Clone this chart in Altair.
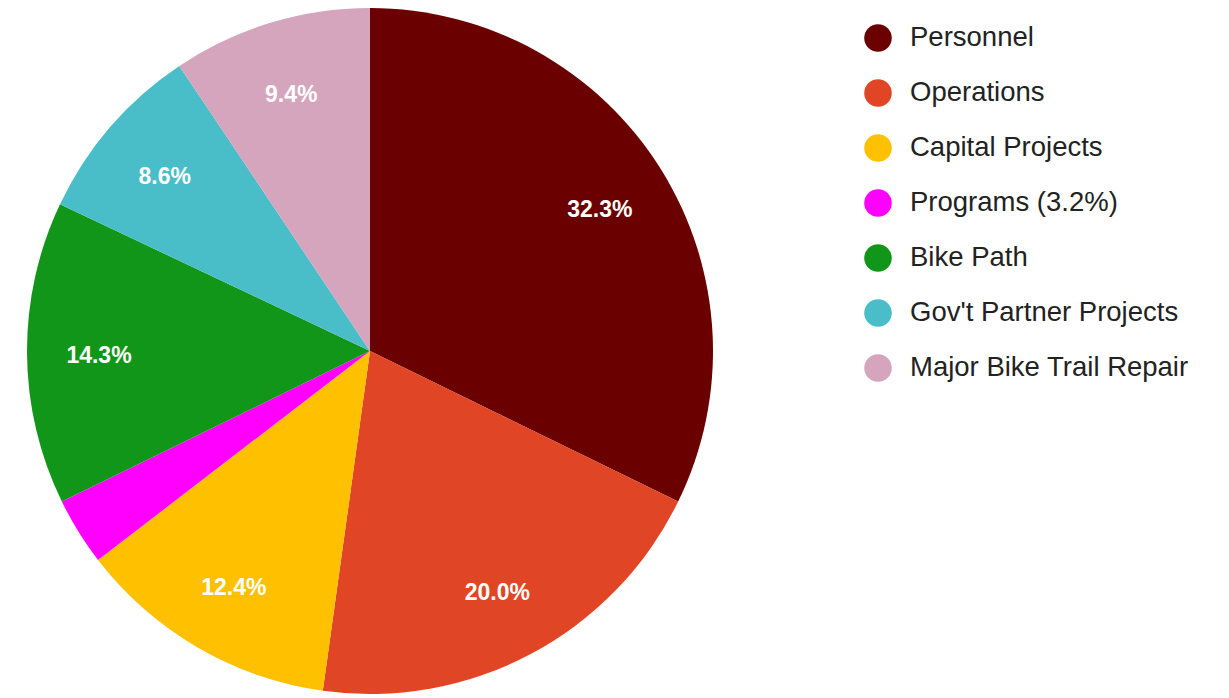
import altair as alt
import pandas as pd

categories = ["Personnel", "Operations", "Capital Projects", "Programs (3.2%)",
              "Bike Path", "Gov't Partner Projects", "Major Bike Trail Repair"]
values = [32.3, 20.0, 12.4, 3.2, 14.3, 8.6, 9.4]
show_label = [True, True, True, False, True, True, True]
colors = ["#6a0000", "#e04525", "#ffc000", "#ff00ff", "#129619", "#49bdc8", "#d5a5bd"]

df = pd.DataFrame({
    "category": categories,
    "value": values,
    "order": list(range(len(categories))),
    "label": [f"{v:.1f}%" if s else "" for v, s in zip(values, show_label)],
})

base = alt.Chart(df).encode(
    theta=alt.Theta("value:Q", stack=True),
    order=alt.Order("order:Q", sort="ascending"),
)

pie = base.mark_arc(outerRadius=343, strokeWidth=0).encode(
    color=alt.Color(
        "category:N",
        scale=alt.Scale(domain=categories, range=colors),
        sort=categories,
        legend=alt.Legend(
            title=None,
            orient="none",
            legendX=856,
            legendY=16,
            symbolType="circle",
            symbolSize=760,
            symbolStrokeWidth=0,
            labelFontSize=27.5,
            labelFont="Arial, Liberation Sans",
            labelColor="#222222",
            labelOffset=18,
            rowPadding=27,
            padding=0,
            labelLimit=400,
        ),
    )
)

text = base.mark_text(
    radius=271, dy=3, fontSize=23, fontWeight="bold", font="Arial, Liberation Sans",
    color="white",
).encode(text="label:N")

chart = (pie + text).properties(
    width=724, height=686, padding=0
).configure_view(stroke=None)

chart.save("out.html", embed_options={"renderer": "svg", "actions": False})
